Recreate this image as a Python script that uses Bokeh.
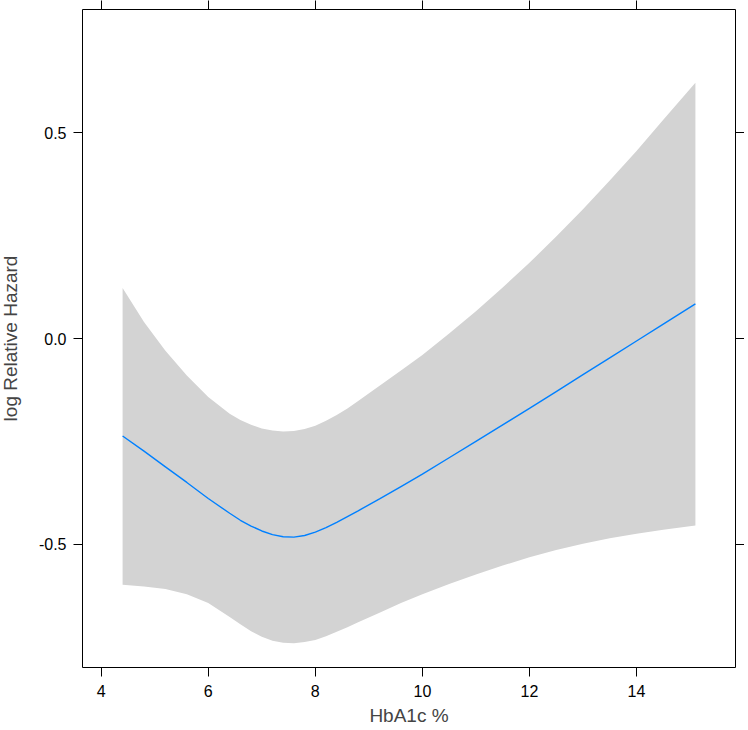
from bokeh.plotting import figure
from bokeh.models import Range1d, LinearAxis, FixedTicker
from bokeh.embed import file_html
from bokeh.resources import INLINE

# HbA1c (%) grid
hba1c = [4.4, 4.8, 5.2, 5.6, 6.0, 6.4, 6.6, 6.8, 7.0, 7.2, 7.4, 7.6, 7.8, 8.0,
         8.2, 8.4, 8.6, 8.8, 9.2, 9.6, 10.0, 10.5, 11.0, 11.5, 12.0, 12.5,
         13.0, 13.5, 14.0, 14.5, 15.1]
# fitted log relative hazard
log_rh = [-0.237, -0.274, -0.312, -0.350, -0.389, -0.425, -0.442, -0.456, -0.468,
          -0.477, -0.482, -0.483, -0.479, -0.471, -0.460, -0.447, -0.433, -0.419,
          -0.390, -0.360, -0.330, -0.290, -0.250, -0.210, -0.170, -0.129, -0.088,
          -0.047, -0.006, 0.035, 0.084]
# upper confidence limit
upper = [0.123, 0.040, -0.030, -0.090, -0.142, -0.183, -0.198, -0.210, -0.219,
         -0.224, -0.226, -0.225, -0.220, -0.212, -0.200, -0.186, -0.170, -0.152,
         -0.115, -0.078, -0.040, 0.012, 0.066, 0.124, 0.184, 0.248, 0.314, 0.384,
         0.456, 0.532, 0.622]
# lower confidence limit
lower = [-0.599, -0.603, -0.609, -0.622, -0.643, -0.677, -0.695, -0.712, -0.725,
         -0.735, -0.740, -0.741, -0.738, -0.733, -0.724, -0.713, -0.702, -0.690,
         -0.667, -0.643, -0.622, -0.597, -0.574, -0.552, -0.532, -0.514, -0.499,
         -0.486, -0.475, -0.465, -0.455]

x_ticks = [4, 6, 8, 10, 12, 14]
y_ticks = [-0.5, 0.0, 0.5]
y_tick_labels = {-0.5: "-0.5", 0.0: "0.0", 0.5: "0.5"}

FONT = "Liberation Sans"

p = figure(width=748, height=733, output_backend="svg", toolbar_location=None,
           x_range=Range1d(3.651, 15.849), y_range=Range1d(-0.80, 0.80),
           x_axis_location=None, y_axis_location=None,
           min_border_left=83, min_border_right=8, min_border_top=13,
           min_border_bottom=62, margin=(-4, 0, 0, -4))
p.grid.visible = False
p.outline_line_color = "black"
p.outline_line_width = 1
p.background_fill_color = "white"
p.border_fill_color = "white"

p.varea(x=hba1c, y1=lower, y2=upper, fill_color="#d3d3d3", fill_alpha=1.0)
p.line(x=hba1c, y=log_rh, line_color="#0080ff", line_width=1.4)


def style(ax, labels=True):
    ax.axis_line_color = None
    ax.major_tick_in = 0
    ax.major_tick_out = 9
    ax.major_tick_line_color = "black"
    ax.major_tick_line_width = 1
    ax.minor_tick_line_color = None
    ax.major_label_text_font = FONT
    if labels:
        ax.major_label_text_color = "black"
        ax.major_label_text_font_size = "16px"
        ax.major_label_standoff = 8
    else:
        ax.major_label_text_color = None
        ax.major_label_text_font_size = "1px"
        ax.major_label_standoff = 0


bx = LinearAxis(ticker=FixedTicker(ticks=x_ticks), axis_label="HbA1c %")
style(bx)
bx.axis_label_text_font = FONT
bx.axis_label_text_font_size = "19px"
bx.axis_label_text_font_style = "normal"
bx.axis_label_standoff = 5
p.add_layout(bx, "below")

ly = LinearAxis(ticker=FixedTicker(ticks=y_ticks), axis_label="log Relative Hazard",
                major_label_overrides=y_tick_labels)
style(ly)
ly.major_label_standoff = 7
ly.major_label_orientation = "horizontal"
ly.axis_label_text_font = FONT
ly.axis_label_text_font_size = "19px"
ly.axis_label_text_font_style = "normal"
ly.axis_label_standoff = 15
p.add_layout(ly, "left")

tx = LinearAxis(ticker=FixedTicker(ticks=x_ticks))
style(tx, labels=False)
p.add_layout(tx, "above")

ry = LinearAxis(ticker=FixedTicker(ticks=y_ticks))
style(ry, labels=False)
p.add_layout(ry, "right")

open("out.html", "w").write(file_html(p, INLINE))
